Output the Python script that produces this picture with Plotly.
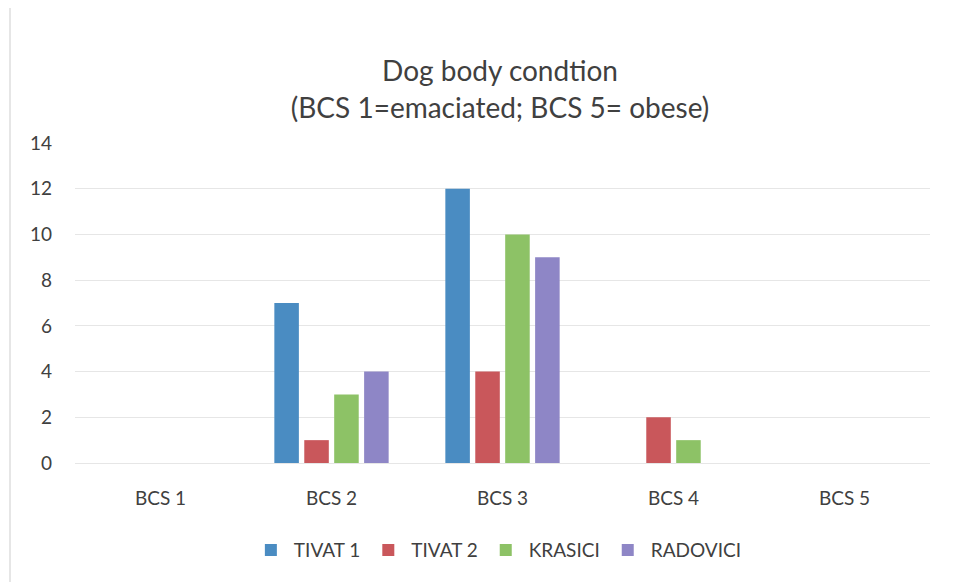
import plotly.graph_objects as go

categories = ["BCS 1", "BCS 2", "BCS 3", "BCS 4", "BCS 5"]
series_names = ["TIVAT 1", "TIVAT 2", "KRASICI", "RADOVICI"]
tivat1 = [0, 7, 12, 0, 0]
tivat2 = [0, 1, 4, 2, 0]
krasici = [0, 3, 10, 1, 0]
radovici = [0, 4, 9, 0, 0]
y_ticks = [0, 2, 4, 6, 8, 10, 12, 14]
colors = ["#4A8CC2", "#C9575B", "#8DC266", "#8E86C6"]

fig = go.Figure()
for name, vals, col in zip(series_names, [tivat1, tivat2, krasici, radovici], colors):
    fig.add_trace(go.Bar(x=categories, y=vals, name=name, marker=dict(color=col, line=dict(width=0))))

font_family = "Lato, 'Open Sans', sans-serif"
fig.update_layout(
    width=958, height=582,
    paper_bgcolor="white", plot_bgcolor="white",
    margin=dict(l=67, r=36, t=135, b=127),
    barmode="group", bargap=0.3, bargroupgap=0.18,
    font=dict(family=font_family, color="#404040", size=19),
    title=dict(text="Dog body condtion<br>(BCS 1=emaciated; BCS 5= obese)",
               x=0.5136, xanchor="center", y=0.874, yanchor="middle",
               font=dict(size=28, color="#404040", family=font_family)),
    legend=dict(orientation="h", x=0.494, xanchor="center", y=-0.272, yanchor="middle",
                font=dict(size=19, color="#404040"), itemwidth=36, traceorder="normal"),
    xaxis=dict(showgrid=False, showline=False, ticks="", ticklabelstandoff=22,
               tickfont=dict(size=19, color="#404040")),
    yaxis=dict(range=[0, 14], tickvals=y_ticks, showgrid=True, gridcolor="#E6E6E6", gridwidth=1,
               zeroline=True, zerolinecolor="#E6E6E6", zerolinewidth=1, showline=False,
               ticks="", ticklabelstandoff=22, tickfont=dict(size=19, color="#404040")),
    shapes=[dict(type="line", xref="paper", yref="paper", x0=-0.076, x1=-0.076, y0=-0.4, y1=1.45,
                 line=dict(color="#E6E6E6", width=2))],
)

fig.write_html("out.html")
